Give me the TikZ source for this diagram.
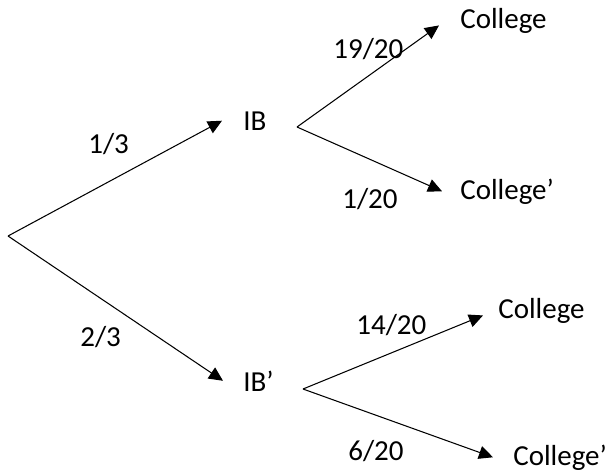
\documentclass[tikz,border=0pt]{standalone}
\usepackage{fontspec}
\setmainfont{Carlito}
\usepackage{tikz}
\usetikzlibrary{positioning, arrows.meta}
\tikzset{
branch/.style={->, >={Triangle[length=8pt, width=7.5pt]}, line width=0.6pt}, % arrows of the tree
outcome/.style={inner sep=0pt, anchor=base west, font=\fontsize{16.5}{19}\selectfont}, % the events
prob/.style={inner sep=0pt, anchor=base west, font=\fontsize{16.5}{19}\selectfont}, % the probabilities
}

\begin{document}
\begin{tikzpicture}[x=0.02cm, y=-0.02cm]
                \useasboundingbox (0,0) rectangle (612,471);
                \coordinate (root) at (8,236);
                \node[outcome] (ib) at (243,130) {IB};
                \node[outcome] (ibn) at (243,391) {IB’};
                \node[outcome] (c1) at (460,28) {College};
                \node[outcome] (c2) at (460,199) {College’};
                \node[outcome] (c3) at (498,318) {College};
                \node[outcome] (c4) at (513,465) {College’};
                \coordinate (ib-out) at (297,127);
                \coordinate (ibn-out) at (303,389);
                \node[prob] (p1) at (88,153) {1/3};
                \node[prob] (p2) at (80,346) {2/3};
                \node[prob] (p11) at (333,58) {19/20};
                \node[prob] (p12) at (342,208) {1/20};
                \node[prob] (p21) at (356,334) {14/20};
                \node[prob] (p22) at (348,460) {6/20};
                \draw[branch] (root) -- ([xshift=-0.42cm]ib.west);
                \draw[branch] (root) -- ([xshift=-0.4cm]ibn.west);
                \draw[branch] (ib-out) -- ([xshift=-0.42cm, yshift=-0.1cm]c1.west);
                \draw[branch] (ib-out) -- ([xshift=-0.36cm]c2.west);
                \draw[branch] (ibn-out) -- ([xshift=-0.3cm, yshift=-0.1cm]c3.west);
                \draw[branch] (ibn-out) -- ([xshift=-0.4cm]c4.west);
                \end{tikzpicture}
\end{document}
